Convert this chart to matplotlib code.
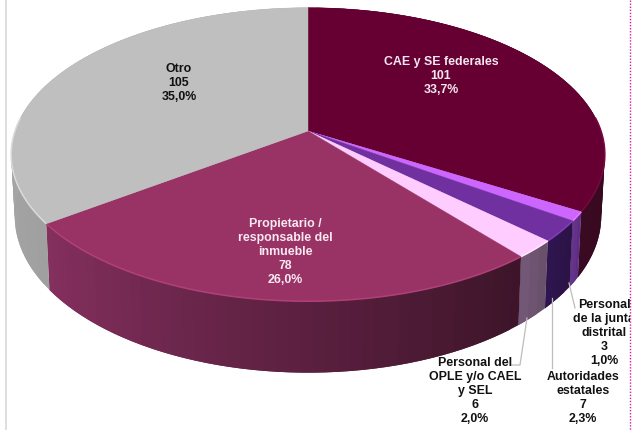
import numpy as np
import matplotlib
matplotlib.use('Agg')
from matplotlib import pyplot as plt
from matplotlib.colors import to_rgb
from matplotlib.patches import Polygon, Rectangle

categories = ['CAE y SE federales', 'Personal\nde la junta\ndistrital', 'Autoridades\nestatales',
              'Personal del\nOPLE y/o CAEL\ny SEL', 'Propietario /\nresponsable del\ninmueble', 'Otro']
values = [101, 3, 7, 6, 78, 105]
percents = ['33,7%', '1,0%', '2,3%', '2,0%', '26,0%', '35,0%']
top_colors = ['#660033', '#CC66FF', '#7030A0', '#FFCCFF', '#993366', '#BFBFBF']
side_light = ['#3a0a22', '#6a3590', '#2e1650', '#75587a', '#85305f', '#b4b4b4']
side_dark = ['#250012', '#5a2c80', '#2a1245', '#685068', '#3c1428', '#a0a0a0']

# centro y deformacion de la perspectiva, en pixeles
CX, CY = 308, 131
RX, RY, K, DEPTH = 293, 143, 0.16, 60


def project(theta, depth=0.0):
    u = np.sin(theta)
    v = -np.cos(theta)
    s = 1 / (1 - K * v)
    return CX + RX * u * s * (1 - 0.0002 * depth), CY + RY * v * s + depth * s


plt.rcParams['font.family'] = ['Liberation Sans', 'DejaVu Sans']
fig = plt.figure(figsize=(6.38, 4.30), dpi=100)
ax = fig.add_axes([0, 0, 1, 1])
ax.set_xlim(0, 638)
ax.set_ylim(430, 0)
ax.axis('off')

edges = np.radians(np.cumsum([0] + values) / sum(values) * 360)

# pared lateral, cada tramo se solapa con el siguiente para que no queden rayas
for i in range(len(values)):
    a0, a1 = edges[i], edges[i + 1]
    n = max(3, int(np.degrees(a1 - a0) / 2))
    t = np.linspace(a0, a1, n + 1)
    c0 = np.array(to_rgb(side_light[i]))
    c1 = np.array(to_rgb(side_dark[i]))
    for j in range(n):
        f = (j + 0.5) / n
        col = c1 * (1 - f) + c0 * f
        xa, ya = project(t[j:j + 3])
        xb, yb = project(t[j:j + 3], DEPTH)
        pts = np.column_stack([np.r_[xa, xb[::-1]], np.r_[ya, yb[::-1]]])
        ax.add_patch(Polygon(pts, closed=True, fc=col, ec='none', zorder=2))

# cara superior
for i in range(len(values)):
    t = np.linspace(edges[i], edges[i + 1], 120)
    x, y = project(t)
    pts = np.column_stack([np.r_[CX, x], np.r_[CY, y]])
    ax.add_patch(Polygon(pts, closed=True, fc=top_colors[i], ec=top_colors[i], lw=0.3, zorder=3))
    # brillo del borde
    rim = tuple(min(1, c * 1.1 + 0.03) for c in to_rgb(top_colors[i]))
    mask = np.cos(t) < 0.1
    ax.plot(x[mask], y[mask], color=rim, lw=1.1, zorder=4, solid_capstyle='butt')

# etiquetas dentro
tk = dict(ha='center', va='center', fontsize=8.9, fontweight='bold', linespacing=1.22, zorder=6)
ax.text(441, 76, f'{categories[0]}\n{values[0]}\n{percents[0]}', color='#f4e6ee', **tk)
ax.text(285, 252, f'{categories[4]}\n{values[4]}\n{percents[4]}', color='#f8e8f0', **tk)
ax.text(179, 83, f'{categories[5]}\n{values[5]}\n{percents[5]}', color='#111111', **tk)

# etiquetas fuera con guias
t1 = ax.text(604, 333, f'{categories[1]}\n{values[1]}\n{percents[1]}', color='#111111', **tk)
t1.set_clip_path(Rectangle((0, 0), 629.5, 430, transform=ax.transData))
t1.set_clip_on(True)
ax.text(583, 398, f'{categories[2]}\n{values[2]}\n{percents[2]}', color='#111111', **tk)
ax.text(475, 391, f'{categories[3]}\n{values[3]}\n{percents[3]}', color='#111111', **tk)
ax.plot([569, 575], [283, 308], color='#bdbdbd', lw=0.9, zorder=5)
ax.plot([552, 552], [298, 368], color='#bdbdbd', lw=0.9, zorder=5)
ax.plot([527, 520, 512], [318, 365, 365], color='#bdbdbd', lw=0.9, zorder=5)

# marco del recorte
ax.plot([5.5, 5.5], [0, 430], color='#d9d9d9', lw=1.2, zorder=1)
ax.plot([630, 630], [0, 430], color='#d81b9a', lw=1.0, ls=(0, (1, 1.2)), zorder=1)

fig.savefig('out.png', dpi=100)
